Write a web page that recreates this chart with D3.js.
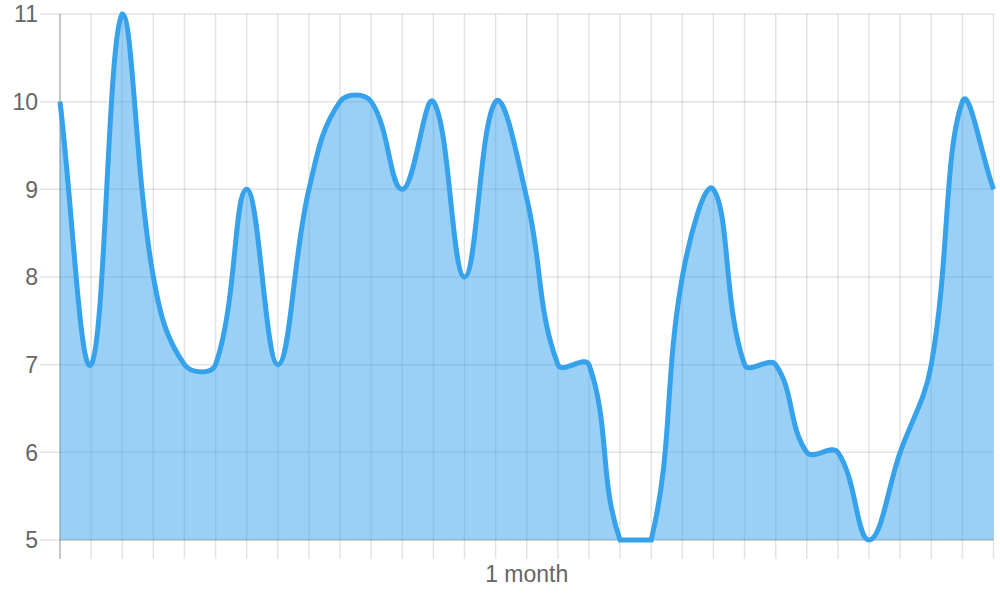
<!DOCTYPE html>
<html>
<head>
<meta charset="utf-8">
<script src="https://cdn.jsdelivr.net/npm/d3@7"></script>
<style>
    body { margin: 0; background: #fff; }
    svg { display: block; }
</style>
</head>
<body>
<div id="chart"></div>
<script>
// one value per day
const days = d3.range(1, 32);
const values = [10, 7, 11, 8, 7, 7, 9, 7, 9, 10, 10, 9, 10, 8, 10, 8.9,
    7, 7, 5, 5, 8, 9, 7, 7, 6, 6, 5, 6, 7, 10, 9];
const yTicks = [5, 6, 7, 8, 9, 10, 11];
const xTitle = '1 month';

const width = 1000;
const height = 600;
const margin = {top: 14, right: 6.5, bottom: 60, left: 60};
const tickLen = 20;
const tension = 0.4;
const gridColor = 'rgba(0,0,0,0.11)';

const svg = d3.select('#chart').append('svg')
    .attr('width', width)
    .attr('height', height);

const x = d3.scalePoint()
    .domain(days)
    .range([margin.left, width - margin.right]);

const y = d3.scaleLinear()
    .domain([5, 11])
    .range([height - margin.bottom, margin.top]);

const areaLeft = x.range()[0], areaRight = x.range()[1];
const areaTop = y(11), areaBottom = y(5);

// grid lines (with the tick marks sticking out)
svg.append('g')
    .selectAll('line')
    .data(yTicks)
    .enter()
    .append('line')
    .attr('x1', areaLeft - tickLen)
    .attr('x2', areaRight)
    .attr('y1', function (d) { return y(d); })
    .attr('y2', function (d) { return y(d); })
    .attr('stroke', gridColor)
    .attr('stroke-width', 1.5);

svg.append('g')
    .selectAll('line')
    .data(days)
    .enter()
    .append('line')
    .attr('x1', function (d) { return x(d); })
    .attr('x2', function (d) { return x(d); })
    .attr('y1', areaTop)
    .attr('y2', areaBottom + tickLen - 1)
    .attr('stroke', function (d, i) { return i === 0 ? 'rgba(0,0,0,0.3)' : gridColor; })
    .attr('stroke-width', 1.5);

// bottom border
svg.append('line')
    .attr('x1', areaLeft).attr('x2', areaRight)
    .attr('y1', areaBottom).attr('y2', areaBottom)
    .attr('stroke', 'rgba(0,0,0,0.12)')
    .attr('stroke-width', 1.5);

// y labels
svg.append('g')
    .selectAll('text')
    .data(yTicks)
    .enter()
    .append('text')
    .attr('x', areaLeft - 22)
    .attr('y', function (d) { return y(d); })
    .attr('dy', '0.36em')
    .attr('text-anchor', 'end')
    .attr('font-family', 'Liberation Sans, Arial, sans-serif')
    .attr('font-size', 23)
    .attr('fill', '#666')
    .text(function (d) { return d; });

svg.append('text')
    .attr('x', (areaLeft + areaRight) / 2)
    .attr('y', 582)
    .attr('text-anchor', 'middle')
    .attr('font-family', 'Liberation Sans, Arial, sans-serif')
    .attr('font-size', 23)
    .attr('fill', '#666')
    .text(xTitle);

// spline like the usual tension bezier, control points kept inside the plot
const cap = function (v, lo, hi) {
    return Math.max(Math.min(v, hi), lo);
};

const pts = values.map(function (v, i) {
    return [x(days[i]), y(v)];
});

const ctrl = pts.map(function (p, i) {
    const prev = pts[i - 1] || p;
    const next = pts[i + 1] || p;
    const d01 = Math.hypot(p[0] - prev[0], p[1] - prev[1]);
    const d12 = Math.hypot(next[0] - p[0], next[1] - p[1]);
    let s01 = d01 / (d01 + d12);
    let s12 = d12 / (d01 + d12);
    if (isNaN(s01)) s01 = 0;
    if (isNaN(s12)) s12 = 0;
    const fa = tension * s01;
    const fb = tension * s12;
    return {
        px: cap(p[0] - fa * (next[0] - prev[0]), areaLeft, areaRight),
        py: cap(p[1] - fa * (next[1] - prev[1]), areaTop, areaBottom),
        nx: cap(p[0] + fb * (next[0] - prev[0]), areaLeft, areaRight),
        ny: cap(p[1] + fb * (next[1] - prev[1]), areaTop, areaBottom)
    };
});

const curvePath = function (closeToBottom) {
    const path = d3.path();
    path.moveTo(pts[0][0], pts[0][1]);
    for (let i = 1; i < pts.length; i++) {
        path.bezierCurveTo(ctrl[i - 1].nx, ctrl[i - 1].ny,
            ctrl[i].px, ctrl[i].py, pts[i][0], pts[i][1]);
    }
    if (closeToBottom) {
        path.lineTo(pts[pts.length - 1][0], areaBottom);
        path.lineTo(pts[0][0], areaBottom);
        path.closePath();
    }
    return path.toString();
};

svg.append('path')
    .attr('d', curvePath(true))
    .attr('fill', 'rgba(54,162,235,0.5)');

svg.append('path')
    .attr('d', curvePath(false))
    .attr('fill', 'none')
    .attr('stroke', '#36A2EB')
    .attr('stroke-width', 5);
</script>
</body>
</html>
